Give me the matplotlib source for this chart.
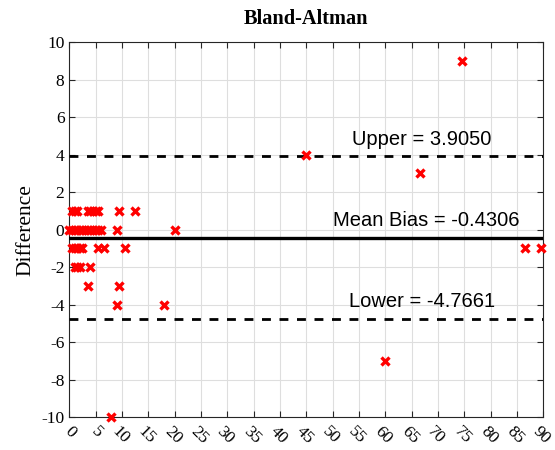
"""
Bland-Altman plot
"""

import matplotlib
matplotlib.use('Agg')
import matplotlib.pyplot as plt
import matplotlib.transforms as mtransforms
import numpy as np

# means (x) and differences (y)
mean_vals = [0.5, 1.0, 1.5, 3.5, 4.0, 4.5, 5.0, 5.5, 9.5, 12.5,
             0.0, 0.5, 1.0, 1.5, 2.0, 2.5, 3.0, 3.5, 4.0, 4.5, 5.0, 5.5, 6.0, 9.0, 20.0,
             0.5, 1.0, 1.5, 2.0, 2.5, 5.5, 6.5, 10.5,
             1.0, 1.5, 2.0, 4.0,
             3.5, 9.5,
             9.0, 18.0,
             8.0,
             45.0, 74.5, 66.5, 60.0, 86.5, 89.5]
diff_vals = [1, 1, 1, 1, 1, 1, 1, 1, 1, 1,
             0, 0, 0, 0, 0, 0, 0, 0, 0, 0, 0, 0, 0, 0, 0,
             -1, -1, -1, -1, -1, -1, -1, -1,
             -2, -2, -2, -2,
             -3, -3,
             -4, -4,
             -10,
             4, 9, 3, -7, -1, -1]

mean_bias = -0.4306
upper_loa = 3.9050
lower_loa = -4.7661

x_ticks = list(range(0, 91, 5))
y_ticks = list(range(-10, 11, 2))

plt.rcParams['axes.unicode_minus'] = False
serif = ['Liberation Serif', 'DejaVu Serif']
sans = ['Liberation Sans', 'DejaVu Sans']

fig = plt.figure(figsize=(5.55, 4.5), dpi=100)
ax = fig.add_axes([0.1249, 0.0733, 0.854, 0.8327])

ax.plot(mean_vals, diff_vals, 'x', color='red', markersize=5.5, mew=2.4,
        zorder=5, clip_on=False)

ax.axhline(mean_bias, color='black', linewidth=2.4, zorder=4)
for v in (upper_loa, lower_loa):
    ax.axhline(v, color='black', linewidth=2.0, linestyle=(0, (3.2, 3.1)), zorder=4)

ax.text(67.0, upper_loa + 0.4, 'Upper = %.4f' % upper_loa, ha='center',
        va='bottom', fontsize=14.5, family=sans)
ax.text(67.7, mean_bias + 0.4, 'Mean Bias = %.4f' % mean_bias, ha='center',
        va='bottom', fontsize=14.5, family=sans)
ax.text(67.0, lower_loa + 0.4, 'Lower = %.4f' % lower_loa, ha='center',
        va='bottom', fontsize=14.5, family=sans)

ax.set_xlim(0, 90)
ax.set_ylim(-10, 10)
ax.set_xticks(x_ticks)
ax.set_yticks(y_ticks)
ax.set_xticklabels([str(t) for t in x_ticks])
ax.set_yticklabels([str(t) for t in y_ticks])

ax.grid(True, color='#dedede', linewidth=0.8)
ax.set_axisbelow(True)
ax.tick_params(direction='in', length=4, width=0.8, top=True, right=True,
               colors='#262626', labelsize=12.5, labelcolor='black')
ax.tick_params(axis='x', pad=5)
for lab in ax.get_xticklabels() + ax.get_yticklabels():
    lab.set_family(serif)

offset = mtransforms.ScaledTranslation(10 / 100, 0, fig.dpi_scale_trans)
for lab in ax.get_xticklabels():
    lab.set_rotation(-45)
    lab.set_ha('right')
    lab.set_va('top')
    lab.set_transform(lab.get_transform() + offset)

for sp in ax.spines.values():
    sp.set_color('#262626')
    sp.set_linewidth(0.8)

ax.set_ylabel('Difference', fontsize=15.5, family=serif, labelpad=4)
ax.set_title('Bland-Altman', fontsize=14.7, fontweight='bold', family=serif, pad=13)

fig.savefig('out.png', dpi=100)
